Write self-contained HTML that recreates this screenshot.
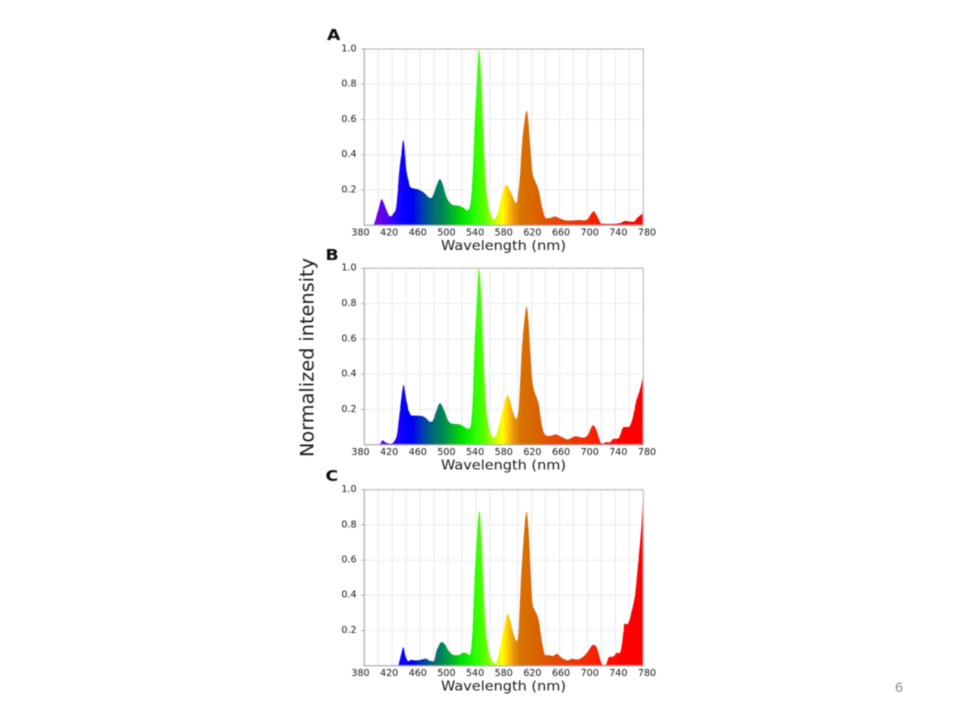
<!DOCTYPE html>
<html lang="en">
<head>
<meta charset="utf-8">
<title>Normalized intensity spectra</title>
<style>
html,body{margin:0;padding:0;background:#fff;width:960px;height:720px;overflow:hidden}
svg{display:block}
text{font-family:"DejaVu Sans","Liberation Sans",sans-serif;fill:#1c1c1c}
</style>
</head>
<body>
<svg id="chart" xmlns="http://www.w3.org/2000/svg" width="960" height="720" viewBox="0 0 960 720">
<defs>
<filter id="soft" x="-5%" y="-5%" width="110%" height="110%"><feGaussianBlur stdDeviation="0.45"/></filter>
<linearGradient id="spectrum" gradientUnits="userSpaceOnUse" x1="364.3" y1="0" x2="643.3" y2="0">
<stop offset="0.0325" stop-color="#7a00e0"/>
<stop offset="0.075" stop-color="#5500f0"/>
<stop offset="0.125" stop-color="#1a00ff"/>
<stop offset="0.15" stop-color="#0000ff"/>
<stop offset="0.175" stop-color="#0000f0"/>
<stop offset="0.2" stop-color="#0030c0"/>
<stop offset="0.225" stop-color="#005098"/>
<stop offset="0.25" stop-color="#007070"/>
<stop offset="0.275" stop-color="#007f5f"/>
<stop offset="0.3" stop-color="#00a040"/>
<stop offset="0.325" stop-color="#00c020"/>
<stop offset="0.35" stop-color="#00e000"/>
<stop offset="0.375" stop-color="#10f000"/>
<stop offset="0.4" stop-color="#30ff00"/>
<stop offset="0.425" stop-color="#50ff00"/>
<stop offset="0.45" stop-color="#90ff00"/>
<stop offset="0.475" stop-color="#d0ff00"/>
<stop offset="0.495" stop-color="#ffff00"/>
<stop offset="0.5125" stop-color="#ffd000"/>
<stop offset="0.5375" stop-color="#e89010"/>
<stop offset="0.5625" stop-color="#d87000"/>
<stop offset="0.6" stop-color="#d86a00"/>
<stop offset="0.65" stop-color="#e05500"/>
<stop offset="0.7" stop-color="#e84400"/>
<stop offset="0.775" stop-color="#f03000"/>
<stop offset="0.85" stop-color="#ff1800"/>
<stop offset="0.9" stop-color="#ff0800"/>
<stop offset="0.95" stop-color="#ff0000"/>
</linearGradient>
</defs>
<g id="root" filter="url(#soft)"></g>
</svg>
<script>
const xTickLabels = [380,420,460,500,540,580,620,660,700,740,780];
const xGridValues = [400,420,440,460,480,500,520,540,560,580,600,620,640,660,680,700,720,740,760];
const yTickLabels = ['0.2','0.4','0.6','0.8','1.0'];
const yTickValues = [0.2,0.4,0.6,0.8,1.0];

const wavelengthA = [393,396,400,405,409,413,417,421,426,430,433,436,438.7,440.8,443,445.5,450,460,467,472,475,478,483,488.5,493,498,505,512,517,522,527,530,533,535.5,537.5,541,544.5,548,551,553,555,560,565,568,572,577,583,587,591,595,598,601,603.5,605,607,610,612.7,615,617,619,621,624,630,635,641,647,653,660,670,680,689,696,701,709,714,720,730,746.5,754,760,766,772,780];
const intensityA = [0,0.03,0.09,0.148,0.115,0.075,0.05,0.065,0.11,0.3,0.4,0.484,0.4,0.3,0.26,0.22,0.21,0.2,0.18,0.16,0.155,0.165,0.22,0.262,0.225,0.16,0.12,0.112,0.11,0.1,0.085,0.09,0.15,0.3,0.5,0.8,1.0,0.8,0.5,0.33,0.2,0.08,0.035,0.04,0.08,0.17,0.23,0.215,0.18,0.14,0.125,0.2,0.3,0.4,0.5,0.6,0.65,0.6,0.5,0.4,0.3,0.26,0.2,0.1,0.04,0.042,0.05,0.04,0.027,0.028,0.03,0.027,0.04,0.08,0.05,0.01,0.008,0.012,0.025,0.022,0.02,0.045,0.07];

const wavelengthB = [401.5,404,406,411,418,423,427,430,433,436.5,439,441,444,448,460,467,475,478,483,488.5,494,500,505,517,522,529,532,534,536,537.5,541,544.5,548,551,553,555,560,565,568,572,577,581,585.5,589,593,598,601,603.5,605,607,610,612.5,615,617,619,621,624,630,635,640,645,655,665,672,682,695,701,708,713,718,722,727,731,738,744,752,758,764,770,775,780];
const intensityB = [0,0.012,0.025,0.012,0.006,0.02,0.06,0.16,0.26,0.34,0.29,0.24,0.19,0.165,0.165,0.155,0.13,0.135,0.19,0.235,0.2,0.14,0.12,0.115,0.105,0.09,0.1,0.16,0.3,0.5,0.8,1.0,0.8,0.5,0.33,0.2,0.08,0.04,0.05,0.09,0.18,0.24,0.28,0.25,0.19,0.145,0.2,0.36,0.48,0.6,0.72,0.785,0.72,0.6,0.47,0.36,0.3,0.23,0.1,0.055,0.05,0.058,0.04,0.03,0.048,0.04,0.06,0.11,0.08,0.02,0.006,0.015,0.012,0.035,0.035,0.1,0.1,0.14,0.25,0.31,0.39];

const wavelengthC = [428.7,432,436,439,443,447,455,462,468,474,479,484,491,496,502,509,515,522,527,531,533,535.5,537.5,541,545,548,551,553,555,560,565,568,572,577,581,585.5,589,594,599,601,603.5,605,607,610,612.5,615,617,619,621,624,630,635,640,645,650,656,663,672,678,685,695,702,708,713,718,722,726,731,735,738,742,746,750,753,757,762,768,773,777,780];
const intensityC = [0,0.05,0.105,0.06,0.025,0.033,0.03,0.035,0.04,0.028,0.025,0.09,0.135,0.12,0.08,0.06,0.06,0.075,0.07,0.06,0.09,0.22,0.44,0.72,0.88,0.72,0.44,0.28,0.17,0.06,0.02,0.012,0.05,0.15,0.23,0.295,0.26,0.18,0.14,0.2,0.4,0.52,0.64,0.8,0.875,0.8,0.66,0.5,0.36,0.32,0.26,0.13,0.06,0.06,0.055,0.068,0.045,0.03,0.04,0.035,0.055,0.09,0.118,0.105,0.04,0.005,0.004,0.05,0.05,0.055,0.075,0.07,0.14,0.24,0.235,0.29,0.4,0.6,0.78,0.97];

const NS = 'http://www.w3.org/2000/svg';
const root = document.getElementById('root');
const PLOT_LEFT = 364.3, PLOT_RIGHT = 643.3;
const LABEL_LEFT = 360.5, LABEL_RIGHT = 647;
const xScale = w => PLOT_LEFT + (w - 380) / 400 * (PLOT_RIGHT - PLOT_LEFT);
const xLabelScale = w => LABEL_LEFT + (w - 380) / 400 * (LABEL_RIGHT - LABEL_LEFT);

function make(parent, tag, attrs, text) {
  const el = document.createElementNS(NS, tag);
  for (const k in attrs) el.setAttribute(k, attrs[k]);
  if (text !== undefined) el.textContent = text;
  parent.appendChild(el);
  return el;
}

function monotonePath(xs, ys) {
  const n = xs.length, d = [], m = [];
  for (let i = 0; i < n - 1; i++) d.push((ys[i + 1] - ys[i]) / (xs[i + 1] - xs[i]));
  m[0] = d[0];
  m[n - 1] = d[n - 2];
  for (let i = 1; i < n - 1; i++) {
    if (d[i - 1] * d[i] <= 0) { m[i] = 0; continue; }
    const central = (ys[i + 1] - ys[i - 1]) / (xs[i + 1] - xs[i - 1]);
    const limit = 3 * Math.min(Math.abs(d[i - 1]), Math.abs(d[i]));
    m[i] = Math.sign(central) * Math.min(Math.abs(central), limit);
  }
  let p = 'M' + xs[0].toFixed(2) + ' ' + ys[0].toFixed(2);
  for (let i = 0; i < n - 1; i++) {
    const h = (xs[i + 1] - xs[i]) / 3;
    p += 'C' + (xs[i] + h).toFixed(2) + ' ' + (ys[i] + m[i] * h).toFixed(2) + ' ' +
         (xs[i + 1] - h).toFixed(2) + ' ' + (ys[i + 1] - m[i + 1] * h).toFixed(2) + ' ' +
         xs[i + 1].toFixed(2) + ' ' + ys[i + 1].toFixed(2);
  }
  return p;
}

function drawPanel(id, letter, letterX, letterY, top, bottom, wavelengths, intensities) {
  const yScale = v => bottom - v * (bottom - top);
  const g = make(root, 'g', {});
  
  

  const label = make(g, 'text', {x: letterX, y: letterY, 'font-size': 15, 'font-weight': 'bold', style: 'fill:#111', transform: 'translate(' + letterX + ' ' + letterY + ') scale(1.15 1) translate(' + (-letterX) + ' ' + (-letterY) + ')'}, letter);
  
  

  xGridValues.forEach(w => {
    const line = make(g, 'line', {x1: xScale(w), x2: xScale(w), y1: top, y2: bottom, stroke: '#e8e8ec', 'stroke-width': 1});
    
    
  });
  yTickValues.forEach(v => {
    const line = make(g, 'line', {x1: PLOT_LEFT, x2: PLOT_RIGHT, y1: yScale(v), y2: yScale(v), stroke: '#ececef', 'stroke-width': 1});
    
    
  });

  const xs = wavelengths.map(xScale);
  const ys = intensities.map(yScale);
  const d = monotonePath(xs, ys) + 'L' + xs[xs.length - 1].toFixed(2) + ' ' + bottom + 'L' + xs[0].toFixed(2) + ' ' + bottom + 'Z';
  const area = make(g, 'path', {d: d, fill: 'url(#spectrum)'});
  
  

  const frame = make(g, 'path', {d: 'M' + PLOT_RIGHT + ' ' + bottom + 'V' + top + 'H' + PLOT_LEFT, fill: 'none', stroke: '#b4b4b4', 'stroke-width': 1});
  
  
  const axes = make(g, 'path', {d: 'M' + PLOT_LEFT + ' ' + top + 'V' + bottom + 'H' + PLOT_RIGHT, fill: 'none', stroke: '#9c9c9c', 'stroke-width': 1});
  
  

  yTickValues.forEach((v, i) => {
    const tick = make(g, 'line', {x1: PLOT_LEFT - 3, x2: PLOT_LEFT, y1: yScale(v), y2: yScale(v), stroke: '#a6a6a6', 'stroke-width': 1});
    
    
    const t = make(g, 'text', {x: 356.5, y: yScale(v) + 2.4, 'font-size': 9.5, 'text-anchor': 'end'}, yTickLabels[i]);
    
    
  });
  xTickLabels.forEach(w => {
    const t = make(g, 'text', {x: xLabelScale(w), y: bottom + 10.2, 'font-size': 9.5, 'text-anchor': 'middle'}, String(w));
    
    
  });
  const title = make(g, 'text', {x: 503.5, y: bottom + 24.6, 'font-size': 13.5, 'text-anchor': 'middle', textLength: 125, lengthAdjust: 'spacingAndGlyphs'}, 'Wavelength (nm)');
  
  
}

drawPanel('a', 'A', 327, 40, 49, 225.3, wavelengthA, intensityA);
drawPanel('b', 'B', 325.5, 260, 268.3, 444.7, wavelengthB, intensityB);
drawPanel('c', 'C', 325.5, 481, 489.7, 665.7, wavelengthC, intensityC);

const yTitle = make(root, 'text', {x: 0, y: 0, 'font-size': 18.5, 'text-anchor': 'middle', textLength: 199, lengthAdjust: 'spacingAndGlyphs', transform: 'translate(313.5 357.5) rotate(-90)'}, 'Normalized intensity');



const pageNumber = make(root, 'text', {x: 899, y: 692, 'font-size': 14, 'text-anchor': 'middle', style: 'fill:#8b8b8b;font-family:"Liberation Sans",sans-serif'}, '6');


</script>
</body>
</html>
